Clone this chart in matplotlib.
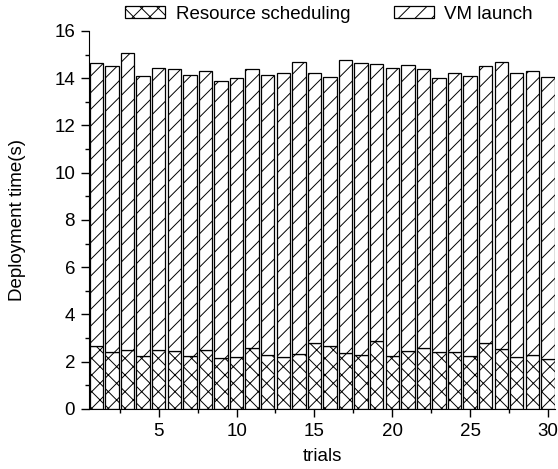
import numpy as np
import matplotlib.pyplot as plt
from matplotlib.ticker import MultipleLocator

plt.rcParams['font.family'] = ['Liberation Sans', 'DejaVu Sans']
plt.rcParams['hatch.linewidth'] = 0.7

# values
trials = list(range(1, 31))
total = [14.63, 14.5, 15.05, 14.1, 14.45, 14.4, 14.15, 14.3, 13.9, 14.0,
         14.4, 14.15, 14.2, 14.7, 14.2, 14.05, 14.75, 14.65, 14.6, 14.45,
         14.55, 14.4, 14.0, 14.2, 14.1, 14.5, 14.7, 14.2, 14.3, 14.05]
scheduling = [2.67, 2.43, 2.48, 2.24, 2.51, 2.44, 2.24, 2.48, 2.14, 2.19,
              2.58, 2.30, 2.19, 2.34, 2.78, 2.67, 2.36, 2.29, 2.88, 2.25,
              2.45, 2.58, 2.43, 2.40, 2.25, 2.79, 2.55, 2.19, 2.29, 2.12]
vm_launch = np.array(total) - np.array(scheduling)

fs = 13.5
fig = plt.figure(figsize=(5.58, 4.69), dpi=100)
ax = fig.add_axes([0.1595, 0.128, 0.835, 0.806])

ax.bar(trials, scheduling, width=0.86, color='white', edgecolor='black',
       linewidth=0.9, hatch='xx', label='Resource scheduling')
ax.bar(trials, vm_launch, width=0.86, bottom=scheduling, color='white',
       edgecolor='black', linewidth=0.9, hatch='//', label='VM launch')

ax.set_xlim(0.52, 30.45)
ax.set_ylim(0, 16)
ax.xaxis.set_major_locator(MultipleLocator(5))
ax.xaxis.set_minor_locator(MultipleLocator(2.5))
ax.yaxis.set_major_locator(MultipleLocator(2))
ax.yaxis.set_minor_locator(MultipleLocator(1))
ax.tick_params(labelsize=fs, direction='out', length=6, width=1, pad=4)
ax.tick_params(which='minor', direction='out', length=3, width=1)
ax.spines['top'].set_visible(False)
ax.spines['right'].set_visible(False)

ax.set_xlabel('trials', fontsize=fs, labelpad=6)
ax.set_ylabel('Deployment time(s)', fontsize=fs, labelpad=20)

ax.legend(loc='upper center', bbox_to_anchor=(0.59, 0.988),
          bbox_transform=fig.transFigure, ncol=2, frameon=False,
          fontsize=fs, handlelength=2.13, handleheight=0.55,
          handletextpad=0.55, columnspacing=2.35, borderpad=0,
          borderaxespad=0)

plt.savefig('out.png', dpi=100)
